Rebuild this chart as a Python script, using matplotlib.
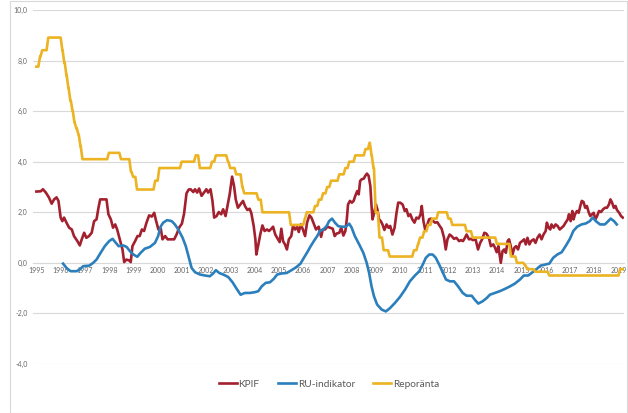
import matplotlib
matplotlib.use("Agg")
import matplotlib.pyplot as plt
from matplotlib.patches import Rectangle
from matplotlib.ticker import FuncFormatter

plt.rcParams["font.family"] = ["Lato", "DejaVu Sans"]

# Year labels on the x axis
years = list(range(1995, 2020))

# KPIF (decimal year, percent)
kpif_t = [1995.00, 1995.18, 1995.27, 1995.39, 1995.52, 1995.63, 1995.73, 1995.83, 1995.91,
          1996.00, 1996.07, 1996.14, 1996.24, 1996.35, 1996.46, 1996.55, 1996.69, 1996.79, 1996.87, 1996.97,
          1997.06, 1997.17, 1997.28, 1997.38, 1997.48, 1997.56, 1997.63, 1997.75, 1997.89, 1997.97,
          1998.07, 1998.16, 1998.25, 1998.33, 1998.44, 1998.55, 1998.62, 1998.71, 1998.82, 1998.89, 1998.96,
          1999.07, 1999.17, 1999.26, 1999.35, 1999.44, 1999.54, 1999.65, 1999.76, 1999.86, 1999.92,
          2000.03, 2000.13, 2000.20, 2000.31, 2000.41, 2000.54, 2000.68, 2000.78, 2000.89,
          2001.00, 2001.09, 2001.19, 2001.28, 2001.36, 2001.47, 2001.54, 2001.63, 2001.71, 2001.81, 2001.91,
          2002.01, 2002.08, 2002.18, 2002.26, 2002.33, 2002.43, 2002.52, 2002.62, 2002.70, 2002.80, 2002.88, 2002.97,
          2003.07, 2003.15, 2003.22, 2003.31, 2003.41, 2003.52, 2003.60, 2003.70, 2003.79, 2003.86, 2003.96,
          2004.03, 2004.07, 2004.14, 2004.23, 2004.32, 2004.41, 2004.51, 2004.59, 2004.69, 2004.76, 2004.85, 2004.93,
          2005.03, 2005.10, 2005.17, 2005.25, 2005.33, 2005.41, 2005.51, 2005.58, 2005.67, 2005.75, 2005.82, 2005.90, 2005.99,
          2006.08, 2006.16, 2006.26, 2006.34, 2006.42, 2006.53, 2006.64, 2006.74, 2006.81, 2006.90,
          2007.00, 2007.11, 2007.22, 2007.30, 2007.38, 2007.49, 2007.57, 2007.66, 2007.74, 2007.80, 2007.85, 2007.93,
          2008.01, 2008.08, 2008.15, 2008.23, 2008.29, 2008.35, 2008.42, 2008.50, 2008.56, 2008.63, 2008.70, 2008.77, 2008.82, 2008.86, 2008.93,
          2009.00, 2009.06, 2009.13, 2009.20, 2009.27, 2009.35, 2009.44, 2009.52, 2009.59, 2009.68, 2009.77, 2009.85, 2009.92,
          2010.00, 2010.10, 2010.19, 2010.26, 2010.34, 2010.42, 2010.50, 2010.59, 2010.67, 2010.76, 2010.84, 2010.89, 2010.96,
          2011.03, 2011.11, 2011.19, 2011.27, 2011.36, 2011.44, 2011.53, 2011.63, 2011.71, 2011.81, 2011.88, 2011.95,
          2012.04, 2012.12, 2012.22, 2012.32, 2012.43, 2012.51, 2012.59, 2012.67, 2012.74, 2012.84, 2012.92,
          2013.00, 2013.11, 2013.21, 2013.30, 2013.39, 2013.47, 2013.55, 2013.66, 2013.74, 2013.84, 2013.91, 2013.98,
          2014.05, 2014.15, 2014.22, 2014.29, 2014.36, 2014.43, 2014.49, 2014.56, 2014.63, 2014.71, 2014.78, 2014.86, 2014.94,
          2015.03, 2015.11, 2015.18, 2015.25, 2015.33, 2015.40, 2015.50, 2015.58, 2015.66, 2015.75, 2015.83, 2015.91,
          2016.00, 2016.05, 2016.12, 2016.19, 2016.24, 2016.33, 2016.41, 2016.49, 2016.58, 2016.66, 2016.74, 2016.82, 2016.91, 2016.96,
          2017.03, 2017.10, 2017.15, 2017.21, 2017.29, 2017.36, 2017.43, 2017.49, 2017.56, 2017.63, 2017.70, 2017.77, 2017.84, 2017.91, 2017.98,
          2018.05, 2018.12, 2018.20, 2018.28, 2018.37, 2018.45, 2018.53, 2018.61, 2018.67, 2018.74, 2018.81, 2018.88, 2018.94,
          2019.03, 2019.11, 2019.18]
kpif_v = [2.82, 2.83, 2.91, 2.78, 2.58, 2.34, 2.51, 2.59, 2.45,
          1.79, 1.65, 1.79, 1.59, 1.39, 1.32, 1.06, 0.86, 0.69, 0.93, 1.19,
          0.99, 1.06, 1.19, 1.65, 1.72, 2.18, 2.51, 2.51, 2.51, 1.92,
          1.72, 1.39, 1.52, 1.32, 0.93, 0.53, 0.03, 0.13, 0.10, 0.03, 0.66,
          0.86, 1.06, 1.06, 1.32, 1.26, 1.59, 1.88, 1.83, 1.98, 1.72,
          1.32, 1.35, 0.93, 1.06, 0.93, 0.93, 0.93, 1.12, 1.40,
          1.55, 1.95, 2.75, 2.90, 2.91, 2.80, 2.91, 2.78, 2.94, 2.65, 2.78,
          2.91, 2.78, 2.91, 2.45, 1.79, 1.85, 2.01, 1.92, 2.12, 1.85, 2.25, 2.71,
          3.41, 3.04, 2.51, 2.18, 2.31, 2.45, 2.25, 2.09, 2.14, 1.98, 1.46,
          0.93, 0.33, 0.66, 1.12, 1.48, 1.26, 1.32, 1.26, 1.35, 1.43, 1.12, 0.99,
          0.82, 1.35, 0.86, 0.73, 0.53, 0.93, 1.06, 1.46, 1.32, 1.43, 1.22, 1.52, 1.32,
          1.06, 1.59, 1.88, 1.79, 1.59, 1.32, 1.43, 1.03, 1.32, 1.32,
          1.43, 1.39, 1.35, 1.06, 1.16, 1.19, 1.39, 1.08, 1.26, 1.72, 2.31, 2.45,
          2.38, 2.45, 2.65, 2.84, 2.71, 3.24, 3.31, 3.33, 3.44, 3.53, 3.44, 3.04, 2.25, 1.72, 1.98,
          2.31, 2.12, 1.72, 1.65, 1.52, 1.30, 1.52, 1.39, 1.46, 1.12, 1.39, 1.98, 2.38,
          2.38, 2.31, 2.05, 2.12, 1.85, 1.92, 1.72, 1.59, 1.79, 1.75, 1.92, 2.25, 1.65,
          1.32, 1.48, 1.72, 1.75, 1.65, 1.59, 1.61, 1.46, 1.35, 0.99, 0.53, 0.93,
          1.12, 1.06, 0.95, 0.99, 0.86, 0.90, 0.86, 0.99, 1.12, 0.93, 0.95,
          0.90, 0.93, 0.53, 0.79, 0.95, 1.19, 1.16, 0.99, 0.66, 0.73, 0.60, 0.42,
          0.66, 0.00, 0.46, 0.53, 0.40, 0.86, 0.93, 0.66, 0.33, 0.60, 0.66, 0.53, 0.79,
          0.86, 0.93, 0.73, 0.99, 0.73, 0.86, 0.93, 0.79, 0.99, 1.12, 0.93, 1.12,
          1.26, 1.59, 1.39, 1.32, 1.52, 1.39, 1.52, 1.46, 1.32, 1.39, 1.46, 1.59, 1.72, 1.92,
          1.65, 2.05, 1.72, 1.92, 2.05, 1.98, 2.25, 2.45, 2.41, 2.18, 2.25, 2.01, 1.85, 1.92, 1.98,
          1.72, 1.85, 2.05, 2.01, 2.12, 2.18, 2.18, 2.31, 2.51, 2.38, 2.18, 2.25, 2.09,
          1.98, 1.85, 1.79]

# RU-indikator (decimal year, standard deviations)
ru_t = [1996.10, 1996.24, 1996.41, 1996.66, 1996.79, 1996.93, 1997.18, 1997.34, 1997.48, 1997.65, 1997.82,
        1998.00, 1998.14, 1998.28, 1998.39, 1998.58, 1998.72, 1998.86, 1999.00, 1999.16, 1999.30, 1999.47, 1999.68, 1999.89,
        2000.02, 2000.12, 2000.23, 2000.39, 2000.58, 2000.71, 2000.85, 2001.03, 2001.16, 2001.26, 2001.40, 2001.54, 2001.74, 2001.95,
        2002.15, 2002.29, 2002.40, 2002.54, 2002.70, 2002.91, 2003.09, 2003.26, 2003.42, 2003.60, 2003.80,
        2004.01, 2004.15, 2004.29, 2004.46, 2004.63, 2004.79, 2004.93, 2005.11, 2005.32, 2005.52, 2005.73, 2005.89,
        2006.03, 2006.17, 2006.31, 2006.44, 2006.58, 2006.69, 2006.83, 2006.97, 2007.07, 2007.19, 2007.31, 2007.45, 2007.59, 2007.76, 2007.90,
        2008.00, 2008.13, 2008.31, 2008.48, 2008.62, 2008.72, 2008.82, 2008.92, 2009.05, 2009.24, 2009.41, 2009.58, 2009.78, 2009.99,
        2010.20, 2010.40, 2010.61, 2010.79, 2010.93, 2011.06, 2011.20, 2011.34, 2011.47, 2011.61, 2011.75, 2011.89,
        2012.05, 2012.22, 2012.39, 2012.58, 2012.74, 2012.95, 2013.08, 2013.22, 2013.40, 2013.57, 2013.70, 2013.91,
        2014.11, 2014.32, 2014.53, 2014.73, 2014.94, 2015.10, 2015.28, 2015.46, 2015.63, 2015.79, 2015.97,
        2016.15, 2016.31, 2016.48, 2016.66, 2016.84, 2017.00, 2017.14, 2017.30, 2017.48, 2017.66, 2017.82, 2017.94,
        2018.07, 2018.24, 2018.44, 2018.58, 2018.68, 2018.82, 2018.93]
ru_v = [-0.03, -0.20, -0.33, -0.33, -0.26, -0.13, -0.11, 0.00, 0.13, 0.40, 0.66,
        0.86, 0.95, 0.79, 0.66, 0.69, 0.63, 0.46, 0.33, 0.24, 0.40, 0.56, 0.63, 0.79,
        1.06, 1.43, 1.59, 1.69, 1.65, 1.52, 1.32, 0.99, 0.66, 0.30, -0.20, -0.37, -0.46, -0.50,
        -0.53, -0.42, -0.29, -0.40, -0.46, -0.56, -0.77, -1.03, -1.26, -1.19, -1.19,
        -1.16, -1.12, -0.93, -0.79, -0.77, -0.63, -0.46, -0.42, -0.40, -0.29, -0.16, -0.03,
        0.20, 0.42, 0.66, 0.86, 1.06, 1.26, 1.32, 1.46, 1.65, 1.75, 1.59, 1.45, 1.43, 1.43, 1.55,
        1.39, 1.06, 0.73, 0.40, 0.00, -0.40, -0.93, -1.32, -1.65, -1.85, -1.92, -1.79, -1.59, -1.35,
        -1.06, -0.73, -0.50, -0.33, -0.07, 0.20, 0.33, 0.33, 0.20, -0.07, -0.37, -0.66,
        -0.73, -0.73, -0.93, -1.19, -1.30, -1.30, -1.46, -1.61, -1.52, -1.39, -1.26, -1.19,
        -1.12, -1.03, -0.93, -0.82, -0.66, -0.50, -0.50, -0.37, -0.24, -0.11, -0.07,
        -0.03, 0.20, 0.33, 0.42, 0.69, 0.95, 1.26, 1.43, 1.52, 1.56, 1.65, 1.79,
        1.65, 1.52, 1.52, 1.65, 1.75, 1.65, 1.52]

# Reporänta: level valid from each date until the next one
repo_t = [1995.00, 1995.08, 1995.17, 1995.42,
          1996.00, 1996.08, 1996.17, 1996.25, 1996.33, 1996.42, 1996.50, 1996.58, 1996.67, 1996.75, 1996.83,
          1997.92, 1998.42, 1998.83, 1998.92, 1999.08, 1999.83, 2000.00, 2000.92,
          2001.50, 2001.67, 2002.17, 2002.33, 2002.83, 2002.92, 2003.17, 2003.42, 2003.50,
          2004.08, 2004.25, 2005.42, 2006.00, 2006.08, 2006.42, 2006.58, 2006.75, 2006.92,
          2007.08, 2007.42, 2007.67, 2007.83, 2008.08, 2008.50, 2008.67, 2008.75, 2008.83, 2008.92,
          2009.08, 2009.25, 2009.50, 2010.50, 2010.67, 2010.75, 2010.92, 2011.08, 2011.25, 2011.50, 2011.92,
          2012.08, 2012.67, 2012.92, 2013.92, 2014.50, 2014.75, 2015.08, 2015.17, 2015.50, 2016.08,
          2019.00, 2019.18]
repo_v = [7.76, 8.16, 8.41, 8.91,
          8.41, 7.91, 7.41, 6.91, 6.41, 6.01, 5.55, 5.31, 5.05, 4.60, 4.10,
          4.35, 4.10, 3.60, 3.40, 2.90, 3.25, 3.75, 4.00,
          4.25, 3.75, 4.00, 4.25, 4.00, 3.75, 3.50, 3.00, 2.75,
          2.50, 2.00, 1.50, 1.75, 2.00, 2.25, 2.50, 2.75, 3.00,
          3.25, 3.50, 3.75, 4.00, 4.25, 4.50, 4.75, 4.25, 3.75, 2.00,
          1.00, 0.50, 0.25, 0.50, 0.75, 1.00, 1.25, 1.50, 1.75, 2.00, 1.75,
          1.50, 1.25, 1.00, 0.75, 0.25, 0.00, -0.10, -0.25, -0.35, -0.50,
          -0.25, -0.25]

# Monthly line chart look: each change takes about one month to show
ramp = 0.07
repo_x, repo_y = [repo_t[0]], [repo_v[0]]
for t, v_old, v_new in zip(repo_t[1:], repo_v[:-1], repo_v[1:]):
    repo_x += [t, t + ramp]
    repo_y += [v_old, v_new]

W, H = 628, 413
fig = plt.figure(figsize=(W / 100, H / 100), dpi=100)
ax = fig.add_axes([33 / W, 49 / H, 591 / W, 354 / H])

ax.plot(kpif_t, kpif_v, color="#A3202E", lw=1.9, label="KPIF", solid_joinstyle="round")
ax.plot(ru_t, ru_v, color="#2A7FBC", lw=1.9, label="RU-indikator", solid_joinstyle="round")
ax.plot(repo_x, repo_y, color="#ECB322", lw=1.9, label="Reporänta", solid_joinstyle="round")

ax.set_xlim(1994.86, 2019.23)
ax.set_ylim(-4, 10)
ax.set_yticks(range(-4, 11, 2))
ax.yaxis.set_major_formatter(FuncFormatter(lambda v, p: f"{v:.1f}".replace(".", ",")))
ax.set_xticks(years)
ax.set_xticklabels([str(y) for y in years])

ax.grid(axis="y", color="#D9D9D9", lw=0.8)
ax.set_axisbelow("line")
for side in ["top", "right", "left"]:
    ax.spines[side].set_visible(False)
ax.spines["bottom"].set_position(("data", 0))
ax.spines["bottom"].set_color("#D9D9D9")
ax.spines["bottom"].set_linewidth(0.8)
ax.spines["bottom"].set_zorder(1)
ax.tick_params(length=0, labelsize=5, colors="#666666")
ax.tick_params(axis="x", pad=3)
ax.tick_params(axis="y", pad=4)

fig.legend(loc="center", bbox_to_anchor=(329 / W, 1 - 384 / H), ncol=3, frameon=False,
           fontsize=7.3, handlelength=1.8, handletextpad=0.15, columnspacing=1.8,
           labelcolor="#595959")

# Thin chart border
fig.patches.append(Rectangle((9.5 / W, 0.5 / H), 617.5 / W, 411.5 / H, transform=fig.transFigure,
                             fill=False, edgecolor="#D9D9D9", lw=0.8))

fig.savefig("out.png", dpi=100)
